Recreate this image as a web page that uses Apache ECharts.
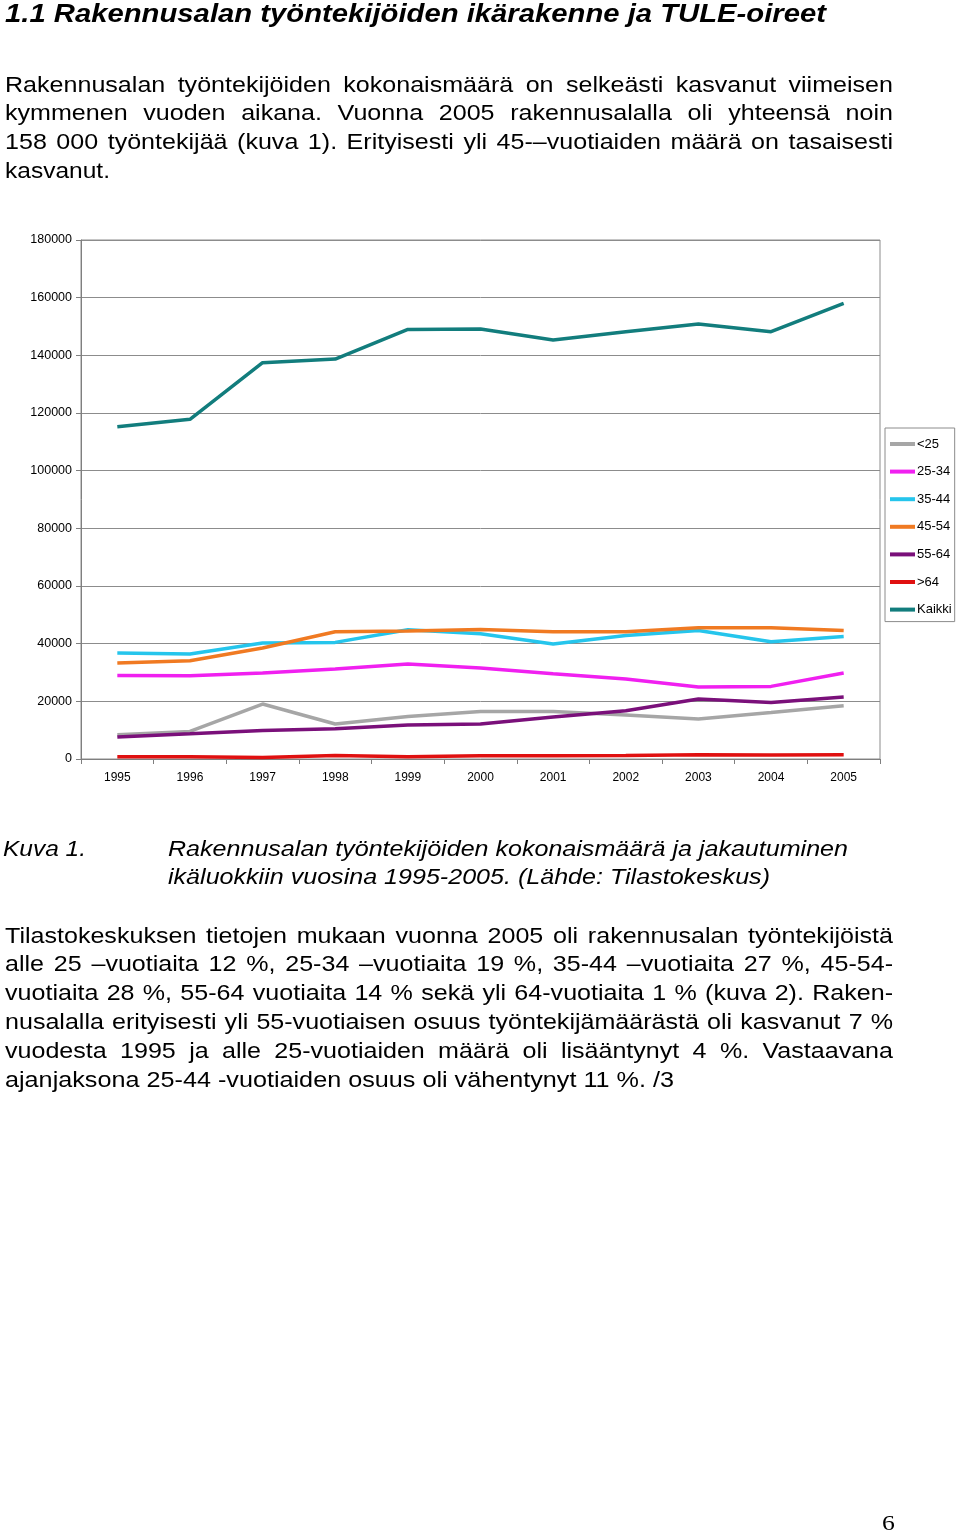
<!DOCTYPE html>
<html>
<head>
<meta charset="utf-8">
<script src="https://cdn.jsdelivr.net/npm/echarts@6/dist/echarts.min.js"></script>
<style>
html,body{margin:0;padding:0;background:#fff;}
body{width:960px;height:1534px;position:relative;overflow:hidden;font-family:"Liberation Sans",Arial,sans-serif;color:#000;}
#chart{position:absolute;left:0;top:0;width:960px;height:1534px;z-index:0;}
.ln{position:absolute;white-space:nowrap;line-height:1;transform-origin:0 0;z-index:1;}
.b{font-size:21.5px;}
.h{font-size:26px;font-weight:bold;font-style:italic;}
.i{font-style:italic;}
.pg{font-family:"Liberation Serif","Times New Roman",serif;font-size:22px;}
</style>
</head>
<body>
<div id="chart"></div>

<div class="ln h fit" data-w="821" style="left:5px;top:0px;"><span>1.1 Rakennusalan työntekijöiden ikärakenne ja TULE-oireet</span></div>

<div class="ln b just" data-w="888" style="left:5px;top:74.5px;"><span>Rakennusalan työntekijöiden kokonaismäärä on selkeästi kasvanut viimeisen</span></div>
<div class="ln b just" data-w="888" style="left:5px;top:103.3px;"><span>kymmenen vuoden aikana. Vuonna 2005 rakennusalalla oli yhteensä noin</span></div>
<div class="ln b just" data-w="888" style="left:5px;top:132px;"><span>158 000 työntekijää (kuva 1). Erityisesti yli 45-–vuotiaiden määrä on tasaisesti</span></div>
<div class="ln b fit" data-w="105" style="left:5px;top:160.8px;"><span>kasvanut.</span></div>

<div class="ln b i fit" data-w="83" style="left:3px;top:838.5px;"><span>Kuva 1.</span></div>
<div class="ln b i fit" data-w="680" style="left:168px;top:838.5px;"><span>Rakennusalan työntekijöiden kokonaismäärä ja jakautuminen</span></div>
<div class="ln b i fit" data-w="602" style="left:168px;top:867px;"><span>ikäluokkiin vuosina 1995-2005. (Lähde: Tilastokeskus)</span></div>

<div class="ln b just" data-w="888" style="left:5px;top:925.5px;"><span>Tilastokeskuksen tietojen mukaan vuonna 2005 oli rakennusalan työntekijöistä</span></div>
<div class="ln b just" data-w="888" style="left:5px;top:954.3px;"><span>alle 25 –vuotiaita 12 %, 25-34 –vuotiaita 19 %, 35-44 –vuotiaita 27 %, 45-54-</span></div>
<div class="ln b just" data-w="888" style="left:5px;top:983.1px;"><span>vuotiaita 28 %, 55-64 vuotiaita 14 % sekä yli 64-vuotiaita 1 % (kuva 2). Raken-</span></div>
<div class="ln b just" data-w="888" style="left:5px;top:1011.9px;"><span>nusalalla erityisesti yli 55-vuotiaisen osuus työntekijämäärästä oli kasvanut 7 %</span></div>
<div class="ln b just" data-w="888" style="left:5px;top:1040.7px;"><span>vuodesta 1995 ja alle 25-vuotiaiden määrä oli lisääntynyt 4 %. Vastaavana</span></div>
<div class="ln b fit" data-w="669" style="left:5px;top:1069.5px;"><span>ajanjaksona 25-44 -vuotiaiden osuus oli vähentynyt 11 %. /3</span></div>

<div class="ln pg" style="left:882px;top:1512px;"><span>6</span></div>

<script>
// ---- data ----
var years = ['1995','1996','1997','1998','1999','2000','2001','2002','2003','2004','2005'];
var seriesNames = ['<25','25-34','35-44','45-54','55-64','>64','Kaikki'];
var under25  = [8430, 9570, 19070, 12140, 14770, 16510, 16510, 15260, 13870, 16160, 18480];
var age25_34 = [28990, 28890, 29830, 31210, 32950, 31560, 29580, 27740, 24970, 25180, 29830];
var age35_44 = [36760, 36400, 40230, 40440, 44840, 43450, 39880, 42870, 44600, 40680, 42520];
var age45_54 = [33290, 34090, 38500, 44150, 44390, 44950, 44150, 44150, 45540, 45540, 44600];
var age55_64 = [7630, 8770, 9920, 10510, 11790, 12140, 14570, 16750, 20810, 19630, 21500];
var over64   = [800, 800, 550, 1250, 800, 1100, 1100, 1250, 1500, 1400, 1500];
var kaikki   = [115240, 117800, 137440, 138720, 149000, 149100, 145300, 148200, 150860, 148200, 158030];
var colors = ['#A6A6A6','#F020F0','#25C5EC','#F07A22','#7A107A','#E01010','#127D7D'];

// ---- text fitting ----
(function(){
  var fits = document.querySelectorAll('.fit');
  var scales = [];
  fits.forEach(function(d){
    var w = d.firstChild.getBoundingClientRect().width;
    var s = parseFloat(d.getAttribute('data-w')) / w;
    d.style.transform = 'scaleX(' + s + ')';
    if (d.classList.contains('b')) scales.push(s);
  });
  scales.sort(function(a,b){return a-b;});
  var S = scales[Math.floor(scales.length/2)];
  document.querySelectorAll('.just').forEach(function(d){
    var target = parseFloat(d.getAttribute('data-w'));
    var w = d.firstChild.getBoundingClientRect().width;
    if (w * S > target) {
      d.style.transform = 'scaleX(' + (target / w) + ')';
    } else {
      d.style.whiteSpace = 'normal';
      d.style.width = (target / S) + 'px';
      d.style.textAlign = 'justify';
      d.style.textAlignLast = 'justify';
      d.style.transform = 'scaleX(' + S + ')';
    }
  });
  var pg = document.querySelector('.pg');
  pg.style.transform = 'scaleX(' + S + ')';
})();

// ---- chart ----
var chart = echarts.init(document.getElementById('chart'), null, {renderer:'canvas'});
var dataArr = [under25, age25_34, age35_44, age45_54, age55_64, over64, kaikki];
var series = seriesNames.map(function(n, i){
  return {
    name: n, type: 'line', data: dataArr[i],
    symbol: 'none', smooth: false,
    lineStyle: {color: colors[i], width: 3.5},
    itemStyle: {color: colors[i]},
    emphasis: {disabled: true}
  };
});
chart.setOption({
  animation: false,
  textStyle: {fontFamily: 'Liberation Sans, Arial, sans-serif'},
  grid: {left: 81, top: 240, width: 799, height: 519, show: true, borderColor: '#8C8C8C', borderWidth: 1, containLabel: false},
  legend: {
    orient: 'vertical', left: 885, top: 428,
    icon: 'rect', itemWidth: 25, itemHeight: 4, itemGap: 13.6,
    padding: [9, 3, 5, 5],
    borderColor: '#8C8C8C', borderWidth: 1,
    textStyle: {fontSize: 13, color: '#000', lineHeight: 14, padding: [0,0,0,-3]},
    data: seriesNames
  },
  xAxis: {
    type: 'category', data: years, boundaryGap: true,
    axisLine: {lineStyle: {color: '#7F7F7F', width: 1}},
    axisTick: {show: true, length: 5, interval: 0, alignWithLabel: false, lineStyle: {color: '#7F7F7F'}},
    axisLabel: {fontSize: 12, color: '#000', margin: 13, interval: 0},
    splitLine: {show: false}
  },
  yAxis: {
    type: 'value', min: 0, max: 180000, interval: 20000,
    axisLine: {show: true, lineStyle: {color: '#7F7F7F', width: 1}},
    axisTick: {show: true, length: 5, lineStyle: {color: '#7F7F7F'}},
    axisLabel: {fontSize: 12.5, color: '#000', margin: 9, formatter: function(v){ return String(v); }},
    splitLine: {show: true, lineStyle: {color: '#8C8C8C', width: 1}}
  },
  series: series
});
</script>
</body>
</html>
